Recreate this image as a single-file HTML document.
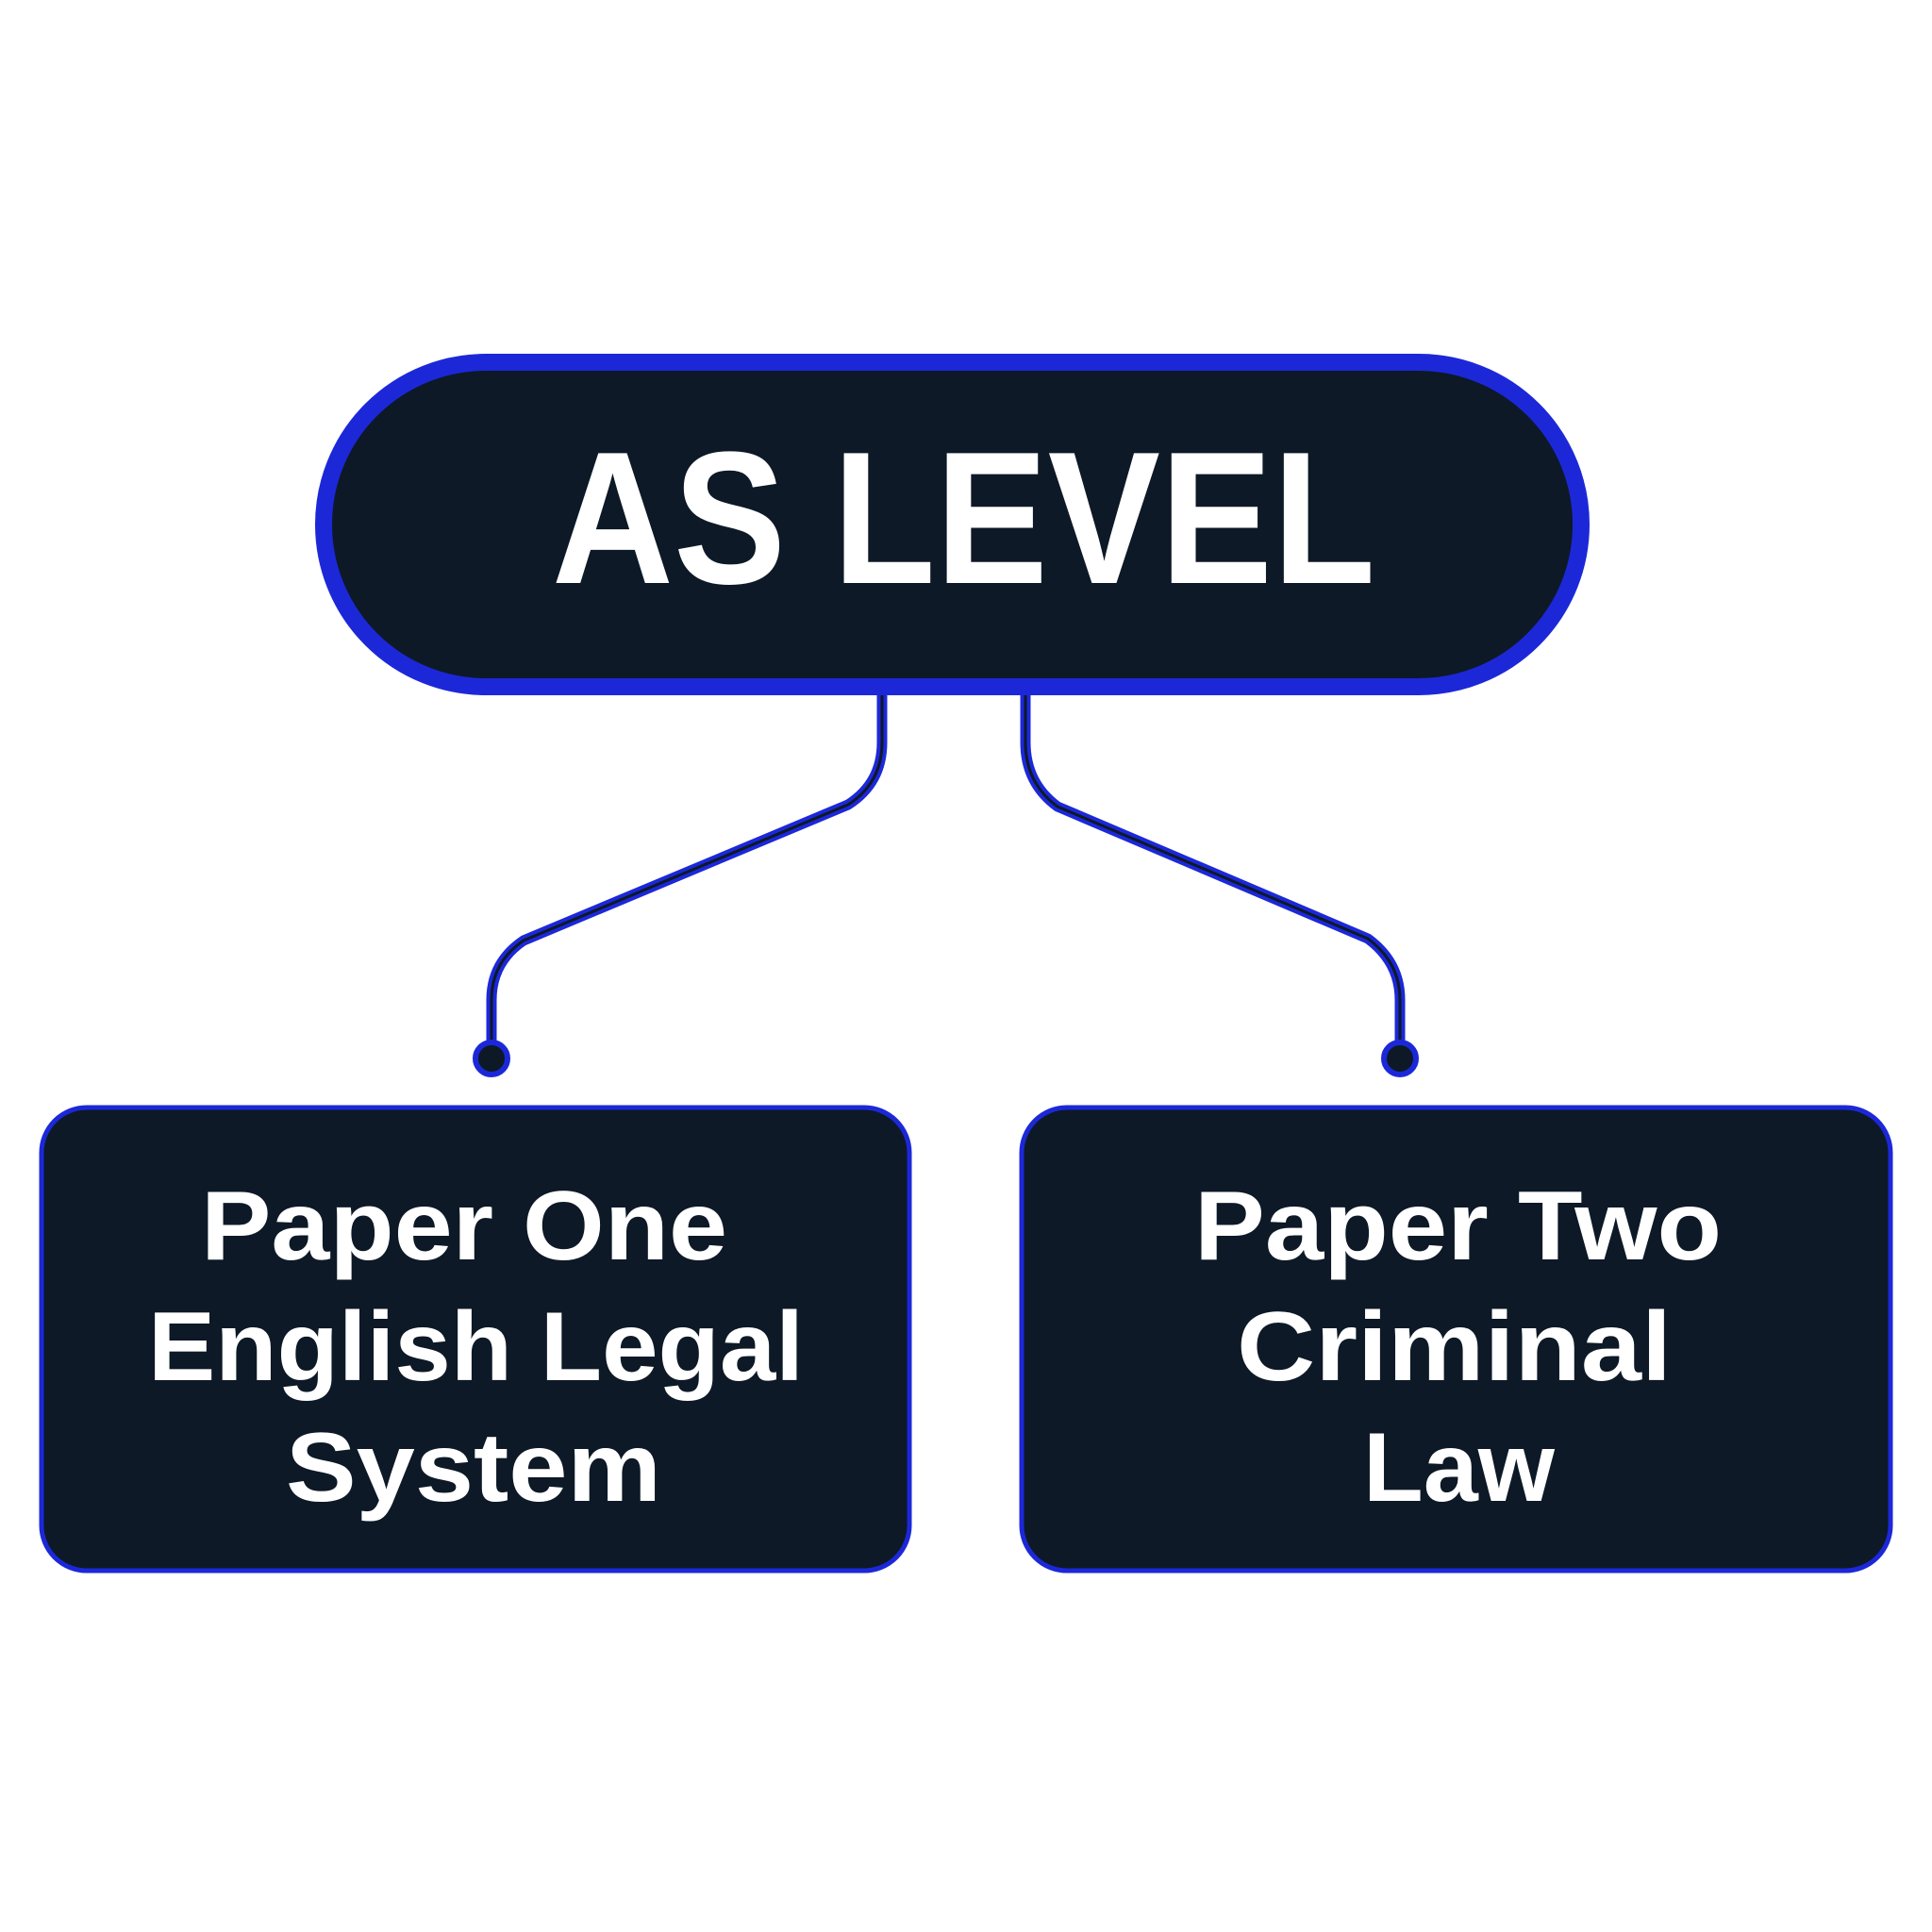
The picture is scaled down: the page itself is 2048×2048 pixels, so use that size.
<!DOCTYPE html>
<html><head><style>html,body{margin:0;padding:0;background:#fff}svg{display:block}</style></head>
<body>
<svg width="2048" height="2048" viewBox="0 0 2048 2048" xmlns="http://www.w3.org/2000/svg">
<rect width="2048" height="2048" fill="#fff"/>
<g fill="none" stroke-linejoin="round">
<path d="M935 737 V787 Q935 830 899 853 L555 997 Q521 1020 521 1060 V1110" stroke="#1c28d8" stroke-width="11"/>
<path d="M935 737 V787 Q935 830 899 853 L555 997 Q521 1020 521 1060 V1110" stroke="#0d1926" stroke-width="3"/>
<path d="M1087 737 V787 Q1087 830 1121 855 L1450 995 Q1484 1020 1484 1060 V1110" stroke="#1c28d8" stroke-width="11"/>
<path d="M1087 737 V787 Q1087 830 1121 855 L1450 995 Q1484 1020 1484 1060 V1110" stroke="#0d1926" stroke-width="3"/>
</g>
<circle cx="521" cy="1122" r="17" fill="#0d1926" stroke="#1c28d8" stroke-width="6"/>
<circle cx="1484" cy="1122" r="17" fill="#0d1926" stroke="#1c28d8" stroke-width="6"/>
<rect x="343" y="384" width="1333" height="344" rx="172" fill="#0d1926" stroke="#1c28d8" stroke-width="18"/>
<text x="585" y="618" font-family="Liberation Sans, sans-serif" font-weight="bold" font-size="200" fill="#fff" textLength="873" lengthAdjust="spacingAndGlyphs">AS LEVEL</text>
<rect x="44" y="1174" width="920" height="491" rx="48" fill="#0d1926" stroke="#1c28d8" stroke-width="5"/>
<rect x="1083" y="1174" width="921" height="491" rx="48" fill="#0d1926" stroke="#1c28d8" stroke-width="5"/>
<g font-family="Liberation Sans, sans-serif" font-weight="bold" font-size="104" fill="#fff" lengthAdjust="spacingAndGlyphs">
<text x="213" y="1335" textLength="558" lengthAdjust="spacingAndGlyphs">Paper One</text>
<text x="157" y="1463" textLength="695" lengthAdjust="spacingAndGlyphs">English Legal</text>
<text x="303" y="1591" textLength="398" lengthAdjust="spacingAndGlyphs">System</text>
<text x="1266" y="1335" textLength="559" lengthAdjust="spacingAndGlyphs">Paper Two</text>
<text x="1311" y="1463" textLength="461" lengthAdjust="spacingAndGlyphs">Criminal</text>
<text x="1445" y="1591" textLength="203" lengthAdjust="spacingAndGlyphs">Law</text>
</g>
</svg>
</body></html>
